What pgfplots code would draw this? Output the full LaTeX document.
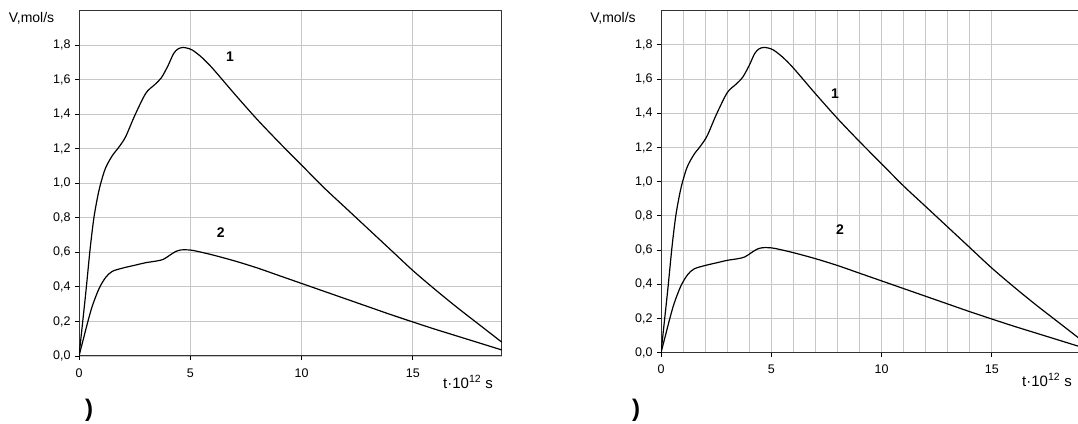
\documentclass[border=0pt]{standalone}
\usepackage{fontspec}
\setmainfont{Liberation Sans}
\usepackage{pgfplots}
\usepackage{pgfplotstable}
\pgfplotsset{compat=1.18}

% curve 1
\pgfplotstableread{
t v
0 0
0.3 0.36
0.5 0.62
0.67 0.80
0.85 0.93
1.0 1.01
1.2 1.09
1.5 1.16
1.8 1.21
2.1 1.27
2.5 1.39
3.0 1.52
3.4 1.57
3.7 1.61
4.0 1.68
4.25 1.75
4.45 1.777
4.65 1.785
4.85 1.782
5.1 1.77
5.5 1.73
6 1.665
7 1.515
8 1.37
9 1.235
10 1.105
11 0.975
12 0.855
13 0.735
14 0.615
15 0.495
16 0.385
17 0.28
18 0.18
19 0.08
}\curveA

% curve 2
\pgfplotstableread{
t v
0 0
0.2 0.10
0.4 0.20
0.6 0.29
0.9 0.39
1.2 0.455
1.5 0.49
2 0.51
2.5 0.525
3 0.54
3.5 0.55
3.8 0.56
4.1 0.585
4.35 0.605
4.6 0.614
4.9 0.614
5.2 0.609
6 0.585
7 0.55
8 0.51
9 0.465
10 0.42
11 0.375
12 0.33
13 0.285
14 0.24
15 0.197
16 0.155
17 0.115
18 0.075
19 0.035
}\curveB

\pgfplotsset{
  vplot/.style={
    scale only axis,
    xmin=0, xmax=19, ymin=0, ymax=2,
    xtick={0,5,10,15}, ytick={0,0.2,...,1.8},
    major grid style={black!22, line width=0.8pt},
    minor grid style={black!22, line width=0.8pt},
    axis line style={black!80, line width=1pt},
    tick align=outside, major tick length=4pt, minor tick length=0pt,
    xtick pos=bottom, ytick pos=left,
    tick style={black, line width=0.8pt},
    ticklabel style={font=\fontsize{12.5}{14}\selectfont},
    /pgf/number format/assume math mode=true,
    yticklabel style={/pgf/number format/use comma, /pgf/number format/fixed,
      /pgf/number format/fixed zerofill, /pgf/number format/precision=1,
      xshift=-1pt},
    xticklabel style={yshift=-5pt},
  },
  curve/.style={black, line width=1.2pt, smooth, tension=0.5, no markers},
}
\tikzset{lbl/.style={font=\bfseries\fontsize{14}{16}\selectfont}}

\begin{document}
\begin{tikzpicture}
\useasboundingbox (0,0) rectangle (1078pt,423pt);

\begin{axis}[vplot, at={(79pt,67pt)}, anchor=south west,
  width=422.8pt, height=345.6pt, grid=major]
  \addplot[curve] table[x=t, y=v] {\curveA};
  \addplot[curve] table[x=t, y=v] {\curveB};
  \node[lbl] at (axis cs:6.79,1.73) {1};
  \node[lbl] at (axis cs:6.37,0.714) {2};
\end{axis}

\begin{axis}[vplot, at={(661pt,70.3pt)}, anchor=south west,
  width=419pt, height=342pt, grid=both, minor x tick num=4]
  \addplot[curve] table[x=t, y=v] {\curveA};
  \addplot[curve] table[x=t, y=v] {\curveB};
  \node[lbl] at (axis cs:7.89,1.517) {1};
  \node[lbl] at (axis cs:8.12,0.718) {2};
\end{axis}

\node[font=\fontsize{14}{16}\selectfont] at (31.5pt,405pt) {V,mol/s};
\node[font=\fontsize{14}{16}\selectfont] at (613pt,405pt) {V,mol/s};
\node[font=\fontsize{15}{17}\selectfont] at (468pt,41pt) {t·10\textsuperscript{12} s};
\node[font=\fontsize{15}{17}\selectfont] at (1047pt,43pt) {t·10\textsuperscript{12} s};
\node[font=\bfseries\fontsize{24}{26}\selectfont] at (89pt,13pt) {)};
\node[font=\bfseries\fontsize{24}{26}\selectfont] at (636pt,13pt) {)};
\end{tikzpicture}
\end{document}
